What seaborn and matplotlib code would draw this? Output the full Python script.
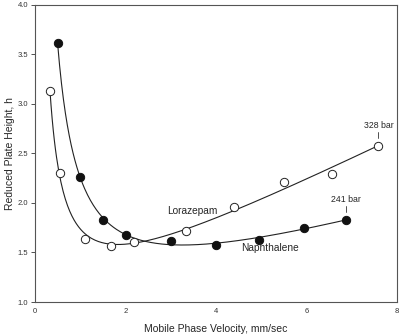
import numpy as np
import pandas as pd
import matplotlib
matplotlib.use("Agg")
import matplotlib.pyplot as plt
import seaborn as sns

# Reduced plate height vs. mobile phase velocity
naph_v = [0.50, 1.00, 1.50, 2.00, 3.00, 4.00, 4.96, 5.95, 6.88]
naph_h = [3.61, 2.26, 1.83, 1.68, 1.62, 1.58, 1.63, 1.75, 1.83]

loraz_v = [0.33, 0.55, 1.10, 1.68, 2.19, 3.34, 4.39, 5.50, 6.57, 7.59]
loraz_h = [3.13, 2.30, 1.64, 1.57, 1.61, 1.72, 1.96, 2.21, 2.29, 2.58]

x_ticks = [0, 2, 4, 6, 8]
y_ticks = [1.0, 1.5, 2.0, 2.5, 3.0, 3.5, 4.0]

sns.set_theme(style="ticks")
plt.rcParams["font.family"] = ["Liberation Sans", "DejaVu Sans"]


def van_deemter(v, h):
    """Least-squares fit of h = A + B/v + C*v, returned as a smooth curve."""
    v = np.asarray(v, float)
    h = np.asarray(h, float)
    X = np.column_stack([np.ones_like(v), 1.0 / v, v])
    coef, *_ = np.linalg.lstsq(X, h, rcond=None)
    vv = np.linspace(v.min(), v.max(), 300)
    hh = coef[0] + coef[1] / vv + coef[2] * vv
    return pd.DataFrame({"v": vv, "h": hh})


fig = plt.figure(figsize=(4.0, 3.35), dpi=100)
ax = fig.add_axes([0.0875, 0.0985, 0.905, 0.887])

line_kw = dict(color="#222222", linewidth=0.8, legend=False)
sns.lineplot(data=van_deemter(loraz_v, loraz_h), x="v", y="h", ax=ax, **line_kw)
sns.lineplot(data=van_deemter(naph_v, naph_h), x="v", y="h", ax=ax, **line_kw)

sns.scatterplot(x=loraz_v, y=loraz_h, ax=ax, s=36, marker="o",
                facecolor="white", edgecolor="#222222", linewidth=0.7, zorder=3)
sns.scatterplot(x=naph_v, y=naph_h, ax=ax, s=36, marker="o",
                color="#111111", edgecolor="#111111", linewidth=0.7, zorder=3)

ax.set_xlim(0, 8)
ax.set_ylim(1.0, 4.0)
ax.set_xticks(x_ticks)
ax.set_xticklabels([str(t) for t in x_ticks])
ax.set_yticks(y_ticks)
ax.set_yticklabels([f"{t:.1f}" for t in y_ticks])
ax.tick_params(axis="both", labelsize=5.5, colors="#333333", width=0.6)
ax.tick_params(axis="y", length=3, pad=2)
ax.tick_params(axis="x", length=0, pad=4)

for side in ["left", "bottom", "top", "right"]:
    ax.spines[side].set_visible(True)
    ax.spines[side].set_color("#555555")
    ax.spines[side].set_linewidth(0.8)

ax.set_xlabel("Mobile Phase Velocity, mm/sec", fontsize=7.5, labelpad=7)
ax.set_ylabel("Reduced Plate Height, h", fontsize=7.5, va="center")
ax.yaxis.set_label_coords(-25 / 362, 0.5)

# Series labels
ax.text(3.48, 1.92, "Lorazepam", fontsize=7.3, ha="center", va="center")
ax.text(5.2, 1.55, "Naphthalene", fontsize=7.3, ha="center", va="center")

# Pressure callouts above the last point of each series
for v, h, label in [(loraz_v[-1], loraz_h[-1], "328 bar"),
                    (naph_v[-1], naph_h[-1], "241 bar")]:
    ax.plot([v, v], [h + 0.08, h + 0.14], color="#333333", linewidth=0.6)
    ax.text(v, h + 0.16, label, fontsize=6.3, ha="center", va="bottom")

fig.savefig("out.png", dpi=100)
